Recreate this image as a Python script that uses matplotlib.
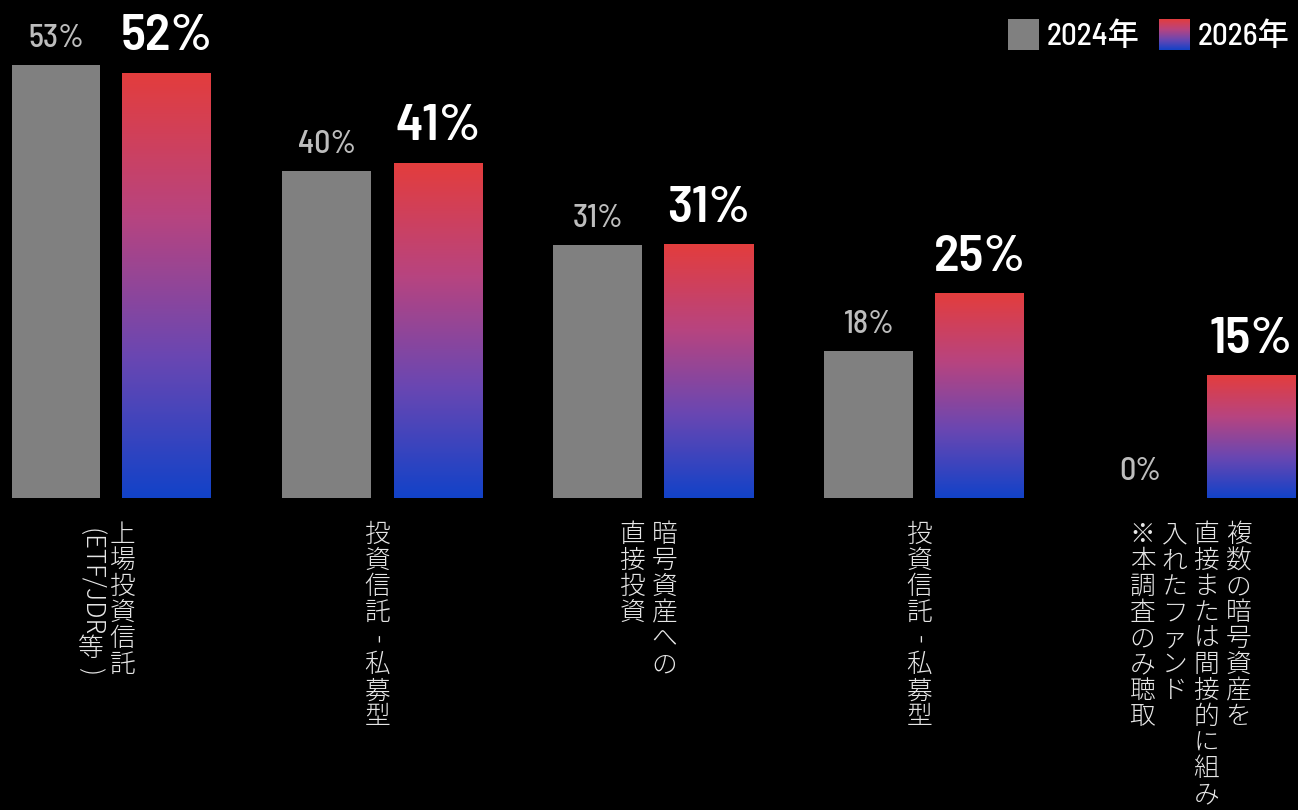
import matplotlib
matplotlib.use('Agg')
import matplotlib.pyplot as plt
import numpy as np
from matplotlib.colors import LinearSegmentedColormap
from matplotlib.patches import Rectangle

# ----- Data -----
# each category label is written vertically, one string per column (right to left)
categories = [
    ['上場投資信託', '(ETF/JDR等)'],
    ['投資信託-私募型'],
    ['暗号資産への', '直接投資'],
    ['投資信託-私募型'],
    ['複数の暗号資産を', '直接または間接的に組み', '入れたファンド', '※本調査のみ聴取'],
]
share_2024 = [53, 40, 31, 18, 0]
share_2026 = [52, 41, 31, 25, 15]
series_labels = ['2024年', '2026年']

NUM_FONT = ['Barlow Semi Condensed', 'Roboto Condensed', 'DejaVu Sans']
JP_FONT = ['Noto Sans CJK JP', 'DejaVu Sans']
LEGEND_FONT = ['Barlow Semi Condensed', 'Noto Sans CJK JP', 'DejaVu Sans']

GRAY = '#808080'
grad_cmap = LinearSegmentedColormap.from_list(
    'red_blue', ['#1242C8', '#6A47B2', '#B8447F', '#E33D3D'])
grad = np.linspace(0, 1, 256).reshape(-1, 1)

# ----- Figure / axes in pixel terms -----
W, H = 1298, 810
fig = plt.figure(figsize=(W / 100, H / 100), dpi=100, facecolor='black')

base_px = 498            # bar baseline, from top
group_px = 271           # distance between category centres
first_px = 111.5         # centre of first category
px_per_pct = 8.17

ax = fig.add_axes([0, 1 - base_px / H, 1, base_px / H])
ax.set_facecolor('black')

x = np.arange(len(categories))
bw = 89 / group_px
off = 55.5 / group_px

ax.bar(x - off, share_2024, bw, color=GRAY, linewidth=0)
bars = ax.bar(x + off, share_2026, bw, color='none', linewidth=0)

# vertical red -> blue fill for the 2026 bars
for b in bars:
    x0, y0, w, h = b.get_x(), b.get_y(), b.get_width(), b.get_height()
    ax.imshow(grad, cmap=grad_cmap, origin='lower', aspect='auto',
              extent=(x0, x0 + w, y0, y0 + h), interpolation='bicubic')

ax.set_xlim(-first_px / group_px, (W - first_px) / group_px)
ax.set_ylim(0, base_px / px_per_pct)
ax.axis('off')

# value labels
for xi, v in zip(x, share_2024):
    ax.annotate(f'{v}%', (xi - off, v), xytext=(0, 13), textcoords='offset points',
                ha='center', va='baseline', fontsize=23, color='#BDBDBD',
                fontweight='medium', family=NUM_FONT)
for xi, v in zip(x, share_2026):
    ax.annotate(f'{v}%', (xi + off, v), xytext=(0, 16.5), textcoords='offset points',
                ha='center', va='baseline', fontsize=37.5, color='white',
                fontweight='semibold', family=NUM_FONT)

# ----- Legend -----
sq = 31
fig.patches.append(Rectangle((1008 / W, 1 - (19 + sq) / H), sq / W, sq / H,
                             transform=fig.transFigure, facecolor=GRAY, linewidth=0))
lax = fig.add_axes([1159 / W, 1 - (19 + sq) / H, sq / W, sq / H])
lax.imshow(grad, cmap=grad_cmap, origin='lower', aspect='auto', interpolation='bicubic')
lax.axis('off')
for lx, lab in zip([1047, 1198], series_labels):
    fig.text(lx / W, 1 - 36 / H, lab, ha='left', va='center', fontsize=22.5,
             color='white', fontweight='medium', family=LEGEND_FONT)

# ----- Vertical category labels -----
renderer = fig.canvas.get_renderer()
pitch = 26
col_gap = 32
top_px = 522
label_kw = dict(fontsize=18.5, color='#E6E6E6', family=JP_FONT, fontweight='light')


def vertical_column(cx, text):
    y = top_px
    i = 0
    while i < len(text):
        ch = text[i]
        if ch == '-':
            fig.text(cx / W, 1 - (y + pitch / 2) / H, ch, rotation=-90,
                     ha='center', va='center', **label_kw)
            y += pitch
            i += 1
        elif ord(ch) < 128:
            # latin runs lie on their side, as in vertical Japanese typesetting
            j = i
            while j < len(text) and ord(text[j]) < 128 and text[j] != '-':
                j += 1
            t = fig.text(cx / W, 1 - (y + 6) / H, text[i:j], rotation=-90,
                         ha='center', va='top', **label_kw)
            y += 6 + t.get_window_extent(renderer).height
            i = j
        else:
            fig.text(cx / W, 1 - (y + pitch / 2) / H, ch, ha='center', va='center',
                     **label_kw)
            y += pitch
            i += 1


for gi, cols in enumerate(categories):
    centre = first_px + group_px * gi - 5
    n = len(cols)
    for j, col in enumerate(cols):
        vertical_column(centre + (n - 1) / 2 * col_gap - j * col_gap, col)

fig.savefig('out.png', dpi=100, facecolor='black')
